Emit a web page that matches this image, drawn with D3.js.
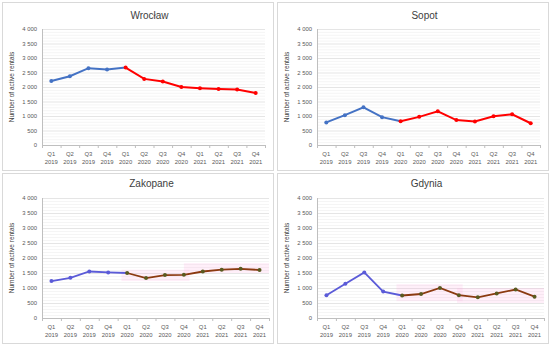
<!DOCTYPE html>
<html>
<head>
<meta charset="utf-8">
<script src="https://cdn.jsdelivr.net/npm/d3@7"></script>
<style>
  body { margin: 0; background: #fff; }
  svg { display: block; font-family: "Liberation Sans", Arial, sans-serif; }
</style>
</head>
<body>
<svg id="chart" width="550" height="346"></svg>
<script>
// quarters on the x axis
const quarters = ["Q1", "Q2", "Q3", "Q4", "Q1", "Q2", "Q3", "Q4", "Q1", "Q2", "Q3", "Q4"];
const years = ["2019", "2019", "2019", "2019", "2020", "2020", "2020", "2020", "2021", "2021", "2021", "2021"];
const yTicks = [0, 500, 1000, 1500, 2000, 2500, 3000, 3500, 4000];

const cities = ["Wrocław", "Sopot", "Zakopane", "Gdynia"];
const wroclaw = [2210, 2370, 2650, 2600, 2670, 2280, 2190, 2000, 1960, 1930, 1910, 1790];
const sopot = [780, 1030, 1300, 960, 820, 970, 1160, 860, 810, 990, 1060, 750];
const zakopane = [1230, 1340, 1550, 1520, 1500, 1330, 1430, 1440, 1550, 1610, 1640, 1600];
const gdynia = [760, 1140, 1520, 880, 750, 800, 1000, 760, 690, 820, 950, 710];

// pink highlight bands (from index, to index, low value, high value)
const zakopaneBands = [[4, 7.3, 1230, 1610], [7.3, 11.5, 1500, 1830]];
const gdyniaBands = [[4, 7.2, 560, 1130], [7.2, 11.5, 500, 1000]];

const svg = d3.select("#chart");
const fmt = v => d3.format(",")(v).replace(",", " ");

function drawPanel(p) {
    const g = svg.append("g").attr("transform", "translate(" + p.x + "," + p.y + ")");
    g.append("rect")
        .attr("x", 0.5).attr("y", 0.5)
        .attr("width", p.w).attr("height", p.h)
        .attr("fill", "#fff").attr("stroke", "#d9d9d9");

    const x = d3.scalePoint().domain(d3.range(12)).range([p.left, p.right]).padding(0.5);
    const y = d3.scaleLinear().domain([0, 4000]).range([p.bottom, p.top]);
    const step = x.step();

    // minor grid
    g.selectAll(".minor").data(d3.range(100, 4000, 100).filter(v => v % 500 != 0)).enter()
        .append("line")
        .attr("x1", p.left).attr("x2", p.right)
        .attr("y1", d => y(d) + 0.5).attr("y2", d => y(d) + 0.5)
        .attr("stroke", "#f2f2f2").attr("stroke-width", 0.8);
    g.selectAll(".major").data(yTicks.slice(1)).enter()
        .append("line")
        .attr("x1", p.left).attr("x2", p.right)
        .attr("y1", d => y(d) + 0.5).attr("y2", d => y(d) + 0.5)
        .attr("stroke", "#dedede").attr("stroke-width", 0.8);

    if (p.bands) {
        p.bands.forEach(function(b) {
            g.append("rect")
                .attr("x", x(0) + b[0] * step - step * 0.3)
                .attr("width", (b[1] - b[0]) * step + step * 0.3)
                .attr("y", y(b[3]))
                .attr("height", y(b[2]) - y(b[3]))
                .attr("fill", "#ffa6dc").attr("opacity", 0.18);
        });
    }

    // axes lines
    g.append("line").attr("x1", p.left + 0.5).attr("x2", p.left + 0.5)
        .attr("y1", p.top).attr("y2", p.bottom).attr("stroke", "#bfbfbf");
    g.append("line").attr("x1", p.left).attr("x2", p.right)
        .attr("y1", p.bottom + 0.5).attr("y2", p.bottom + 0.5).attr("stroke", "#bfbfbf");
    g.selectAll(".xt").data(d3.range(13)).enter().append("line")
        .attr("x1", d => p.left + d * step + 0.5).attr("x2", d => p.left + d * step + 0.5)
        .attr("y1", p.bottom).attr("y2", p.bottom + 3).attr("stroke", "#bfbfbf");

    g.selectAll(".yl").data(yTicks).enter().append("text")
        .attr("x", p.left - 5).attr("y", d => y(d) + 2)
        .attr("text-anchor", "end").attr("font-size", 5.9).attr("fill", "#595959")
        .text(fmt);

    g.selectAll(".xq").data(quarters).enter().append("text")
        .attr("x", (d, i) => x(i)).attr("y", p.bottom + 11)
        .attr("text-anchor", "middle").attr("font-size", 5.9).attr("fill", "#595959")
        .text(d => d);
    g.selectAll(".xy").data(years).enter().append("text")
        .attr("x", (d, i) => x(i)).attr("y", p.bottom + 19)
        .attr("text-anchor", "middle").attr("font-size", 5.9).attr("fill", "#595959")
        .text(d => d);

    g.append("text")
        .attr("transform", "translate(" + (p.left - 28) + "," + ((p.top + p.bottom) / 2) + ") rotate(-90)")
        .attr("text-anchor", "middle").attr("font-size", 6.5).attr("fill", "#404040")
        .text("Number of active rentals");

    g.append("text")
        .attr("x", (p.left + p.right) / 2 - 4).attr("y", p.titleY)
        .attr("text-anchor", "middle").attr("font-size", 10).attr("fill", "#404040")
        .text(p.name);

    const line = d3.line().x((d, i) => x(d.i)).y(d => y(d.v));
    const pts = p.values.map((v, i) => ({ i: i, v: v }));
    const first = pts.slice(0, 5);
    const second = pts.slice(4);

    g.append("path").datum(first).attr("d", line)
        .attr("fill", "none").attr("stroke", p.c1).attr("stroke-width", p.lw);
    g.append("path").datum(second).attr("d", line)
        .attr("fill", "none").attr("stroke", p.c2).attr("stroke-width", p.lw);

    g.selectAll(".m").data(pts).enter().append("circle")
        .attr("cx", d => x(d.i)).attr("cy", d => y(d.v)).attr("r", 2)
        .attr("fill", d => d.i < 4 ? p.c1 : p.m2);
}

const panels = [
    { name: cities[0], values: wroclaw, x: 2, y: 2, w: 271, h: 168, left: 40, right: 263, top: 27, bottom: 143, titleY: 17, c1: "#4472c4", c2: "#ff0000", m2: "#ff0000", lw: 2 },
    { name: cities[1], values: sopot, x: 277, y: 2, w: 271, h: 168, left: 40, right: 263, top: 27, bottom: 143, titleY: 17, c1: "#4472c4", c2: "#ff0000", m2: "#ff0000", lw: 2 },
    { name: cities[2], values: zakopane, x: 2, y: 173, w: 271, h: 170, left: 40, right: 267, top: 25, bottom: 145, titleY: 14, c1: "#5b5bd8", c2: "#8b3a10", m2: "#5a5a20", lw: 1.8, bands: zakopaneBands },
    { name: cities[3], values: gdynia, x: 277, y: 173, w: 271, h: 170, left: 40, right: 267, top: 25, bottom: 145, titleY: 14, c1: "#5b5bd8", c2: "#8b3a10", m2: "#5a5a20", lw: 1.8, bands: gdyniaBands }
];

panels.forEach(drawPanel);
</script>
</body>
</html>
